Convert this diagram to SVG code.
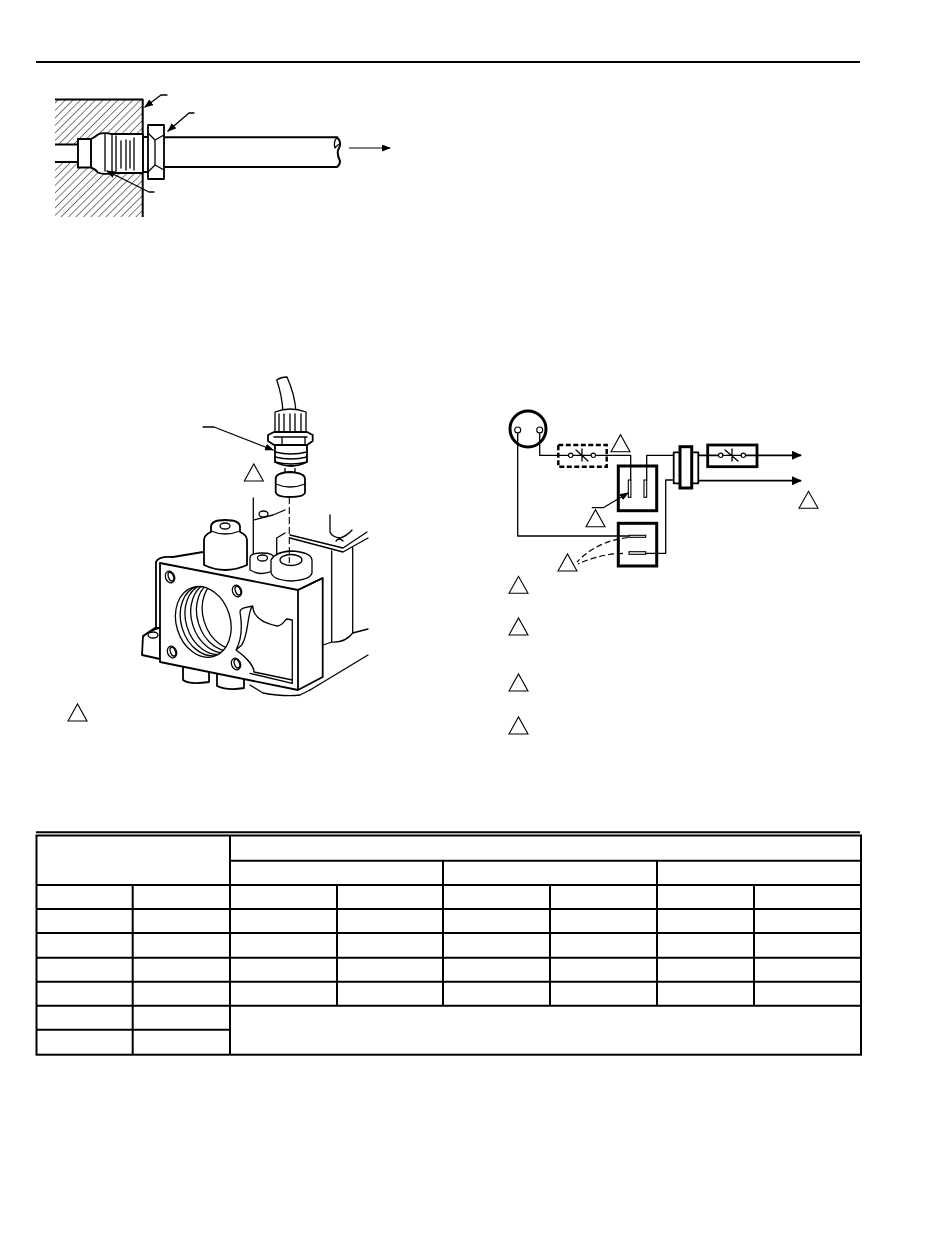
<svg xmlns="http://www.w3.org/2000/svg" width="950" height="1241" viewBox="0 0 950 1241">
<style>
.l{fill:none;stroke:#000;stroke-width:1.3;stroke-linejoin:round;stroke-linecap:round}
.w{fill:#fff;stroke:#000;stroke-width:1.3;stroke-linejoin:round}
.h{fill:#fff;stroke:#000;stroke-width:1.8;stroke-linejoin:round}
.m{fill:none;stroke:#000;stroke-width:2;stroke-linejoin:round}
.t{fill:#fff;stroke:#000;stroke-width:1.1}
.b{fill:#fff;stroke:#000;stroke-width:3}
.th{fill:none;stroke:#000;stroke-width:2}
.d{fill:none;stroke:#000;stroke-width:1.1;stroke-dasharray:7 3}
.e{fill:none;stroke:#000;stroke-width:1.2;stroke-dasharray:6 3}
.n{fill:#fff;stroke:none}
.p{fill:none;stroke:#000;stroke-width:1.9}
</style>
<defs>
<pattern id="hatch" width="5.300" height="5.300" patternUnits="userSpaceOnUse" patternTransform="rotate(45)">
<rect width="5.300" height="5.300" fill="#fff"/><line x1="0" y1="0" x2="0" y2="5.300" stroke="#000" stroke-width="1"/>
</pattern>
<marker id="a" markerWidth="9" markerHeight="7" refX="8" refY="3.500" orient="auto" markerUnits="userSpaceOnUse"><path d="M0 0L9 3.500L0 7z"/></marker>
<marker id="ab" markerWidth="10" markerHeight="9" refX="9" refY="4.500" orient="auto" markerUnits="userSpaceOnUse"><path d="M0 0L10 4.500L0 9z"/></marker>
<path id="tri" d="M0 0L9.500 -17L19 0z"/>
<clipPath id="bore"><ellipse cx="203.300" cy="622" rx="27" ry="36"/></clipPath>
</defs>

<g id="page-rule"><line x1="36" y1="62" x2="860" y2="62" stroke="#000" stroke-width="2"/></g>

<g id="fitting-figure">
<path d="M55 100H142.500V144.500H55zM55 162H142.500V217H55z" fill="url(#hatch)"/>
<path d="M55 99.500H142.700V217M55 144.500H78M55 162H78" class="m"/>
<path d="M78 139H91Q95 137 98 134.500Q103 132 112 134H143V137H149V172H143V173H112Q103 175 98 172.500Q95 169 91 167.500H78z" class="n"/>
<path d="M91 139H78V167.500H91M91 139Q95 137 98 134.500Q103 132 112 134H143M143 173H112Q103 175 98 172.500Q95 169 91 167.500M91 139V167.500M143 137H149M143 172H149M143 134V173" class="p"/>
<path d="M105 134V171M112 134V173M116 136V172M121 141V168M126 140V170M130 141V168M134 138V170" class="l"/>
<rect x="148" y="125" width="16" height="54" class="h"/>
<path d="M148 133L155 140L164 135M148 172L155 165L164 170M155 140V165" class="l"/>
<path d="M164 137.300H337Q342 142 339 148Q336 153 340 161Q340 165 337 167H164" class="th"/>
<path d="M337 137.300Q333 142 335 148Q339 143 340 145" class="l"/>
<line x1="349" y1="148" x2="390" y2="148" stroke="#000" stroke-width="1.200" marker-end="url(#a)"/>
<path d="M167 95H161L145 107" class="l" marker-end="url(#a)"/>
<path d="M194 113H189L168 131" class="l" marker-end="url(#a)"/>
<path d="M154 192H149L107 171" class="l" marker-end="url(#a)"/>
</g>

<g id="valve-figure">
<path d="M276.700 380Q282 395 283 412H296Q295 395 287 377Q281 377 276.700 380z" class="w"/>
<path d="M275 412Q290 406 306 412L306 433H275z" class="w"/>
<path d="M279 414V432M284 414V433M290 414V433M295 414V433M301 414V432" class="l"/>
<path d="M268 435L274 432H307L312.700 435V441L307 445H274L268 441z" class="h"/>
<path d="M282 445V437M305 437V445M274 437H307" class="l"/>
<path d="M275 445H307V462Q291 470 275 462z" class="h"/>
<path d="M275 452Q291 456 307 452M275 457Q291 461 307 457M275 462Q291 466 307 462" class="l"/>
<path d="M285 468V478H295V468" class="w"/>
<path d="M275.700 479Q275 473 290 472Q305 473 305 479V492Q305 497 290 497Q276 497 275.700 492z" class="h"/>
<path d="M275.700 484Q290 490 305 484" class="l"/>
<path d="M203 427H214L273 450" class="l" marker-end="url(#a)"/>
<use href="#tri" x="244.300" y="481" class="t"/>
<use href="#tri" x="68" y="721" class="t"/>

<path d="M253.300 498V556M253.300 520Q265 517 273 515L285 510M276.700 555V538L285 533" class="l"/>
<ellipse cx="263.500" cy="514" rx="4.500" ry="3" class="l"/>
<path d="M290 535L343 548L367 532M290 538L343 552L368 538M330 515V532Q332 537 340 538Q347 536 352 530M336 541Q339 537 343 541M331.700 551V642M352.700 548V633M331.700 642Q345 643 352.700 633L368 629M323 645L332 642M368 655L310 690" class="l"/>
<path d="M250 685L263 693Q285 697 300 695L310 690" class="l"/>
<path d="M156 628V562Q158 556 173 557L203 552" class="h" fill="none"/>
<path d="M204 565V540Q204 535 211 532V527Q211 520 225 520Q240 520 240 527V532Q247 535 247 540V565Q225 575 204 565z" class="h"/>
<ellipse cx="225" cy="526" rx="5" ry="3" class="l"/>
<path d="M211 531Q225 537 240 531" class="l"/>
<path d="M250 558Q250 553 262 553Q274 553 274 558V570Q262 577 250 570z" class="w"/>
<ellipse cx="262.500" cy="558" rx="5" ry="3" class="l"/>
<path d="M271 560Q275 552 291 551Q311 552 312 560V573Q310 580 291 581Q272 580 271 572z" class="w"/>
<ellipse cx="291" cy="560" rx="11" ry="5.500" class="l"/>
<path d="M289.300 497V563" class="d"/>

<path d="M155 628L143 636L142 655L160 659V628z" class="h"/>
<path d="M144 636Q150 630 160 628" class="l"/>
<ellipse cx="153" cy="635" rx="5" ry="3" class="l"/>
<path d="M183 666V680Q190 685 209 682V672M217 674V686Q228 691 244 688V680" class="h"/>
<path d="M160 563L298 590L322.700 578V677L298 690L160 662z" class="h"/>
<path d="M298 590V690M298 590L322.700 578" class="h" fill="none"/>
<g class="l">
<g transform="rotate(-17 203 622)">
<ellipse cx="203.300" cy="622" rx="27" ry="36"/>
<g clip-path="url(#bore)">
<ellipse cx="208.300" cy="622" rx="27" ry="36"/>
<ellipse cx="213.300" cy="622" rx="27" ry="36"/>
<ellipse cx="219.300" cy="622" rx="27" ry="36"/>
<ellipse cx="225.300" cy="622" rx="27" ry="36"/>
<ellipse cx="231.300" cy="622" rx="27" ry="36"/>
</g>
</g>
<g transform="rotate(-20 170 577)"><ellipse cx="170" cy="577" rx="4.500" ry="6"/><ellipse cx="171" cy="577" rx="2.500" ry="4.500"/></g>
<g transform="rotate(-20 237 591)"><ellipse cx="237" cy="591" rx="4.500" ry="6"/><ellipse cx="238" cy="591" rx="2.500" ry="4.500"/></g>
<g transform="rotate(-20 172 652)"><ellipse cx="172" cy="652" rx="4.500" ry="6"/><ellipse cx="173" cy="652" rx="2.500" ry="4.500"/></g>
<g transform="rotate(-20 236 664)"><ellipse cx="236" cy="664" rx="4.500" ry="6"/><ellipse cx="237" cy="664" rx="2.500" ry="4.500"/></g>
<path d="M252.700 606L245 607.700Q240 609 240 612Q244 635 236 650M252.700 606C247 611 249 635 241.700 645L236 650C250 660 254 668 254 672L292.300 680V620L287 619C285 619 283 626 277 626C258 622 253 613 252.700 606M250 673.300L292.300 683.300V680"/>
</g>
</g>

<g id="wiring-figure">
<circle cx="528" cy="429" r="18" fill="#fff" stroke="#000" stroke-width="3"/>
<circle cx="517.700" cy="430" r="3" class="t"/>
<circle cx="539.700" cy="430" r="3" class="t"/>
<path d="M539.700 433V455.300H558M606 455.300H630.700V480M646.700 480V455.300H673M517.700 433V536H629M645.700 553.300H665.700V480H673" class="l"/>
<rect x="558.300" y="445" width="48.400" height="21.700" fill="none" stroke="#000" stroke-width="2.500" stroke-dasharray="5 2.500"/>
<g id="switch-a"><path d="M558 455.300H568.500M573 455.300H591M595.500 455.300H606M576 450L588 461M582 449V461" class="l"/><circle cx="570.700" cy="455.300" r="2.200" class="t"/><circle cx="593.300" cy="455.300" r="2.200" class="t"/></g>
<rect x="618.300" y="466" width="38.400" height="44.700" class="b"/>
<path d="M630.700 466V480M646.700 466V480" class="l"/>
<rect x="628.300" y="480" width="2.600" height="17.300" class="t"/>
<rect x="644" y="480" width="2.700" height="17.300" class="t"/>
<rect x="618.300" y="523.300" width="38.400" height="42.700" class="b"/>
<path d="M618 536H629M645.700 553.300H657" class="l"/>
<rect x="629" y="535.300" width="16.700" height="2" class="t"/>
<rect x="629" y="551.700" width="16.700" height="2.600" class="t"/>
<path d="M592.300 507.700H603.300L628 493" class="l" marker-end="url(#a)"/>
<path d="M628 537.500Q597 541 577 562M623 553.300Q600 554 578 564" class="e"/>
<rect x="673.700" y="452.300" width="24.600" height="31" class="h"/>
<rect x="680" y="446.700" width="11.700" height="41.300" class="b"/>
<rect x="707.700" y="445" width="49.300" height="21.700" fill="none" stroke="#000" stroke-width="2.800"/>
<path d="M698 455.300H718.500M745.500 455.300H801" stroke="#000" stroke-width="1.800" fill="none" marker-end="url(#ab)"/>
<path d="M698 480.700H801" stroke="#000" stroke-width="1.800" fill="none" marker-end="url(#ab)"/>
<circle cx="720.700" cy="455.300" r="2.200" class="t"/><circle cx="743.300" cy="455.300" r="2.200" class="t"/>
<path d="M723 455.300H741M725 450L738 461M732 449V461" class="l"/>
<use href="#tri" x="611" y="451.700" class="t"/>
<use href="#tri" x="586" y="526.700" class="t"/>
<use href="#tri" x="799" y="508.300" class="t"/>
<use href="#tri" x="558" y="571" class="t"/>
<use href="#tri" x="509" y="593.300" class="t"/>
<use href="#tri" x="509" y="635" class="t"/>
<use href="#tri" x="509" y="691" class="t"/>
<use href="#tri" x="509" y="734" class="t"/>
</g>

<g id="table" stroke="#000" stroke-width="2" fill="none">
<path d="M36 832.300H860"/>
<rect x="36.500" y="835.500" width="824.500" height="219.200"/>
<path d="M230 835.500V1054.700M230 860.700H861M36.500 885H861M36.500 909H861M36.500 933H861M36.500 957.700H861M36.500 981.700H861M36.500 1005.700H861M36.500 1029.700H230"/>
<path d="M132.700 885V1054.700M337 885V1005.700M443 860.700V1005.700M550 885V1005.700M657 860.700V1005.700M754 885V1005.700"/>
</g>
</svg>
